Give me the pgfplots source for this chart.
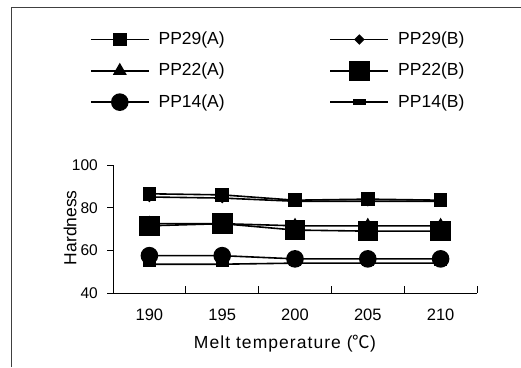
\documentclass[border=0pt]{standalone}
\usepackage{fontspec}
\setmainfont{Liberation Sans}
\newfontfamily\cjk{Noto Sans CJK KR}
\newfontfamily\spaced[LetterSpace=6]{Liberation Sans}
\usepackage{pgfplots}
\pgfplotsset{compat=1.18}
\newcommand{\lstrut}{\rule[-2pt]{0pt}{14pt}}
\begin{document}
\fontsize{17.5pt}{20pt}\selectfont
\begin{tikzpicture}[x=1pt,y=1pt]
\useasboundingbox (0,0) rectangle (521,367);
\draw[line width=1pt, black!75] (11,0) -- (11,359) -- (521,359);
\begin{axis}[
  at={(113pt,74pt)}, anchor=south west,
  scale only axis, width=364pt, height=128pt,
  xmin=0, xmax=5, ymin=40, ymax=100,
  axis x line=bottom, axis y line=left,
  axis line style={-, line width=1pt, black},
  xtick={0,1,2,3,4,5}, xticklabels={190,195,200,205,210},
  x tick label as interval,
  ytick={40,60,80,100},
  tick align=inside, major tick length=7pt,
  tick style={black, line width=1pt},
  ytick style={xshift=-6pt},
  /pgf/number format/assume math mode=true,
  xticklabel style={anchor=north, inner sep=0pt, yshift=-16pt, font=\fontsize{16.5pt}{19pt}\selectfont},
  yticklabel style={anchor=east, inner sep=0pt, xshift=-15pt, font=\fontsize{15.5pt}{18pt}\selectfont},
  clip=false,
  legend columns=2,
  legend cell align=left,
  legend style={at={(axis description cs:-0.0632,2.04)}, anchor=north west,
    draw=none, fill=none, inner sep=0pt, outer sep=0pt, row sep=16pt,
    nodes={inner sep=0pt, outer sep=0pt},
    /tikz/every odd column/.append style={column sep=9pt}},
  legend image code/.code={
    \draw[#1, mark=none] (0pt,0pt) -- (58pt,0pt);
    \draw[#1, overlay] plot coordinates {(29pt,0pt)};
  },
]
\addplot[black, line width=1.6pt, mark=square*, mark size=6pt, mark options={solid, fill=black}]
  coordinates {(0.5,86.5) (1.5,86) (2.5,83.5) (3.5,84) (4.5,83.5)};
\addlegendentry{\lstrut\makebox[171pt][l]{PP29(A)}}
\addplot[black, line width=1.6pt, mark=diamond*, mark size=5.5pt, mark options={solid, fill=black, yscale=0.75}]
  coordinates {(0.5,85) (1.5,84.5) (2.5,83) (3.5,83) (4.5,83)};
\addlegendentry{\lstrut PP29(B)}
\addplot[black, line width=1.6pt, mark=triangle*, mark size=6.5pt, mark options={solid, fill=black}]
  coordinates {(0.5,72.5) (1.5,72.5) (2.5,71.5) (3.5,71.5) (4.5,71.5)};
\addlegendentry{\lstrut\makebox[171pt][l]{PP22(A)}}
\addplot[black, line width=1.6pt, mark=square*, mark size=9.5pt, mark options={solid, fill=black}]
  coordinates {(0.5,71.5) (1.5,72.5) (2.5,69.5) (3.5,69) (4.5,69)};
\addlegendentry{\lstrut PP22(B)}
\addplot[black, line width=1.6pt, mark=*, mark size=8pt, mark options={solid, fill=black}]
  coordinates {(0.5,57.5) (1.5,57.5) (2.5,56) (3.5,56) (4.5,56)};
\addlegendentry{\lstrut\makebox[171pt][l]{PP14(A)}}
\addplot[black, line width=1.6pt, mark=square*, mark size=5.5pt, mark options={solid, fill=black, yscale=0.45}]
  coordinates {(0.5,53.5) (1.5,53.5) (2.5,54) (3.5,54) (4.5,54)};
\addlegendentry{\lstrut PP14(B)}
\node[inner sep=0pt, anchor=center] at (axis description cs:0.4725,-0.398) {\spaced Melt temperature ({\cjk ℃})};
\node[inner sep=0pt, anchor=center, rotate=90] at (axis description cs:-0.118,0.51) {Hardness};
\end{axis}
\end{tikzpicture}
\end{document}
